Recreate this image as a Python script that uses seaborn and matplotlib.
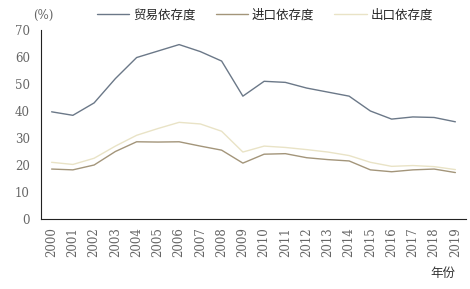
import matplotlib
matplotlib.use("Agg")
import matplotlib.pyplot as plt
import seaborn as sns
import pandas as pd

years = [str(y) for y in range(2000, 2020)]
trade = [39.7, 38.4, 43.0, 52.0, 59.8, 62.2, 64.6, 62.0, 58.5, 45.5,
         51.0, 50.6, 48.5, 47.0, 45.5, 40.0, 37.0, 37.8, 37.6, 36.0]
imports = [18.5, 18.2, 20.0, 25.0, 28.6, 28.5, 28.6, 27.0, 25.5, 20.7,
           24.0, 24.2, 22.7, 22.0, 21.5, 18.2, 17.5, 18.2, 18.5, 17.2]
exports = [21.0, 20.2, 22.5, 27.0, 31.0, 33.5, 35.8, 35.2, 32.5, 24.8,
           27.0, 26.5, 25.7, 24.8, 23.5, 21.0, 19.5, 19.8, 19.4, 18.3]
series_names = ["贸易依存度", "进口依存度", "出口依存度"]
colors = ["#6b7888", "#a3957a", "#e9e3c6"]
yticks = [0, 10, 20, 30, 40, 50, 60, 70]

df = pd.DataFrame({"年份": list(range(len(years))),
                   series_names[0]: trade,
                   series_names[1]: imports,
                   series_names[2]: exports})
long = df.melt(id_vars="年份", var_name="series", value_name="value")

sns.set_theme(style="white")
plt.rcParams["font.family"] = ["Noto Sans CJK SC", "DejaVu Sans"]

fig = plt.figure(figsize=(4.7, 2.89), dpi=100)
ax = fig.add_axes([41 / 470, 1 - 219 / 289, (466 - 41) / 470, (219 - 30) / 289])

sns.lineplot(data=long, x="年份", y="value", hue="series", hue_order=series_names,
             palette=colors, linewidth=1.0, ax=ax, legend=True)

ax.set_xlim(-0.5, len(years) - 0.5)
ax.set_ylim(0, 70)
ax.set_yticks(yticks)
ax.set_yticklabels([str(v) for v in yticks], family="DejaVu Serif", fontsize=8.5, color="#666666")
ax.set_xticks(range(len(years)))
ax.set_xticklabels(years, rotation=90, family="DejaVu Serif", fontsize=8.5, color="#666666")
ax.tick_params(axis="x", which="major", length=0, pad=6)
ax.set_xticks([i - 0.5 for i in range(len(years) + 1)], minor=True)
ax.tick_params(axis="x", which="minor", direction="in", length=3, color="#222222", width=0.8)
ax.tick_params(axis="y", direction="in", length=3, color="#222222", width=0.8, pad=8)
ax.set_xlabel("")
ax.set_ylabel("")
for s in ["top", "right"]:
    ax.spines[s].set_visible(False)
for s in ["left", "bottom"]:
    ax.spines[s].set_color("#222222")
    ax.spines[s].set_linewidth(0.8)

handles, labels = ax.get_legend_handles_labels()
ax.legend(handles, labels, loc="center", bbox_to_anchor=(265 / 470, 1 - 15 / 289),
          bbox_transform=fig.transFigure, ncol=3, frameon=False, fontsize=9,
          handlelength=2.6, handletextpad=0.3, columnspacing=1.6)

fig.text(43 / 470, 1 - 15 / 289, "(%)", ha="center", va="center", fontsize=8.5,
         family="DejaVu Serif", color="#666666")
fig.text(443 / 470, 1 - 273 / 289, "年份", ha="center", va="center", fontsize=9, color="#333333")

fig.savefig("out.png", dpi=100)
